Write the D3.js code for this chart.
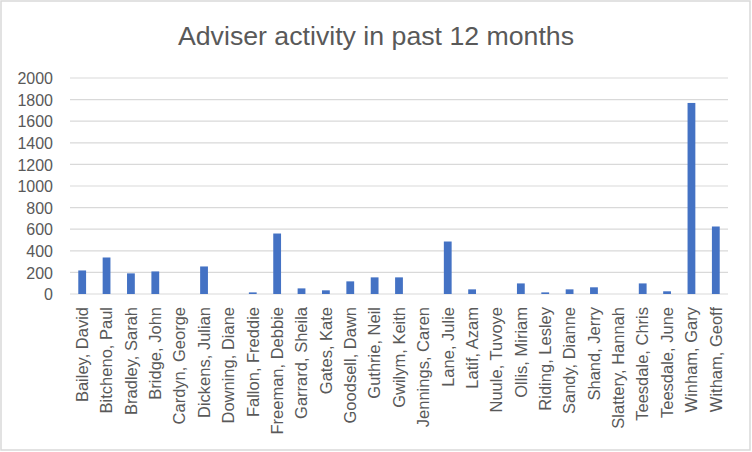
<!DOCTYPE html>
<html>
<head>
<meta charset="utf-8">
<script src="https://cdn.jsdelivr.net/npm/d3@7"></script>
<style>
  body { margin: 0; background: #fff; }
  svg { display: block; }
</style>
</head>
<body>
<script>
const advisers = [
    "Bailey, David", "Bitcheno, Paul", "Bradley, Sarah", "Bridge, John", "Cardyn, George",
    "Dickens, Julian", "Downing, Diane", "Fallon, Freddie", "Freeman, Debbie", "Garrard, Sheila",
    "Gates, Kate", "Goodsell, Dawn", "Guthrie, Neil", "Gwilym, Keith", "Jennings, Caren",
    "Lane, Julie", "Latif, Azam", "Nuule, Tuvoye", "Ollis, Miriam", "Riding, Lesley",
    "Sandy, Dianne", "Shand, Jerry", "Slattery, Hannah", "Teesdale, Chris", "Teesdale, June",
    "Winham, Gary", "Witham, Geoff"
];
const activity = [
    218, 338, 191, 209, 0,
    255, 0, 15, 560, 52,
    34, 117, 154, 154, 0,
    486, 43, 0, 98, 15,
    43, 62, 0, 98, 25,
    1769, 625
];
const yTicks = [0, 200, 400, 600, 800, 1000, 1200, 1400, 1600, 1800, 2000];

const width = 752;
const height = 452;
const margin = { top: 78, right: 24, bottom: 158, left: 70 };
const textColor = "#595959";
const font = "'Liberation Sans', Arial, sans-serif";

const svg = d3.select("body")
    .append("svg")
    .attr("width", width)
    .attr("height", height);

// chart area border
svg.append("rect")
    .attr("x", 1)
    .attr("y", 1)
    .attr("width", width - 3)
    .attr("height", height - 3)
    .attr("fill", "#fff")
    .attr("stroke", "#d9d9d9")
    .attr("stroke-width", 1.5);

svg.append("text")
    .attr("x", width / 2)
    .attr("y", 45)
    .attr("text-anchor", "middle")
    .attr("font-family", font)
    .attr("font-size", "26.7px")
    .attr("fill", textColor)
    .text("Adviser activity in past 12 months");

const x = d3.scaleBand()
    .domain(advisers)
    .range([margin.left, width - margin.right])
    .paddingInner(0.68)
    .paddingOuter(0.34);

const y = d3.scaleLinear()
    .domain([0, 2000])
    .range([height - margin.bottom, margin.top]);

// gridlines
svg.append("g")
    .selectAll("line")
    .data(yTicks)
    .enter()
    .append("line")
    .attr("x1", margin.left)
    .attr("x2", width - margin.right)
    .attr("y1", d => y(d))
    .attr("y2", d => y(d))
    .attr("stroke", "#d9d9d9")
    .attr("stroke-width", 1.2);

// y axis labels
const yAxis = svg.append("g")
    .attr("transform", `translate(${margin.left - 17},0)`)
    .call(d3.axisLeft(y).tickValues(yTicks).tickFormat(d3.format("d")).tickSize(0).tickPadding(0));
yAxis.select(".domain").remove();
yAxis.selectAll("text")
    .attr("font-family", font)
    .attr("font-size", "16px")
    .attr("fill", textColor)
    .attr("dy", "0.35em");

svg.append("g")
    .selectAll("rect")
    .data(activity)
    .enter()
    .append("rect")
    .attr("x", (d, i) => x(advisers[i]))
    .attr("width", x.bandwidth())
    .attr("y", d => y(d))
    .attr("height", d => y(0) - y(d))
    .attr("fill", "#4472c4");

// x axis labels, rotated
const xAxis = svg.append("g")
    .attr("transform", `translate(0,${y(0) + 13})`)
    .call(d3.axisBottom(x).tickSize(0).tickPadding(0));
xAxis.select(".domain").remove();
xAxis.selectAll("text")
    .attr("font-family", font)
    .attr("font-size", "16.5px")
    .attr("fill", textColor)
    .attr("text-anchor", "end")
    .attr("transform", "rotate(-90)")
    .attr("x", 0)
    .attr("y", 0)
    .attr("dy", "0.35em");
</script>
</body>
</html>
